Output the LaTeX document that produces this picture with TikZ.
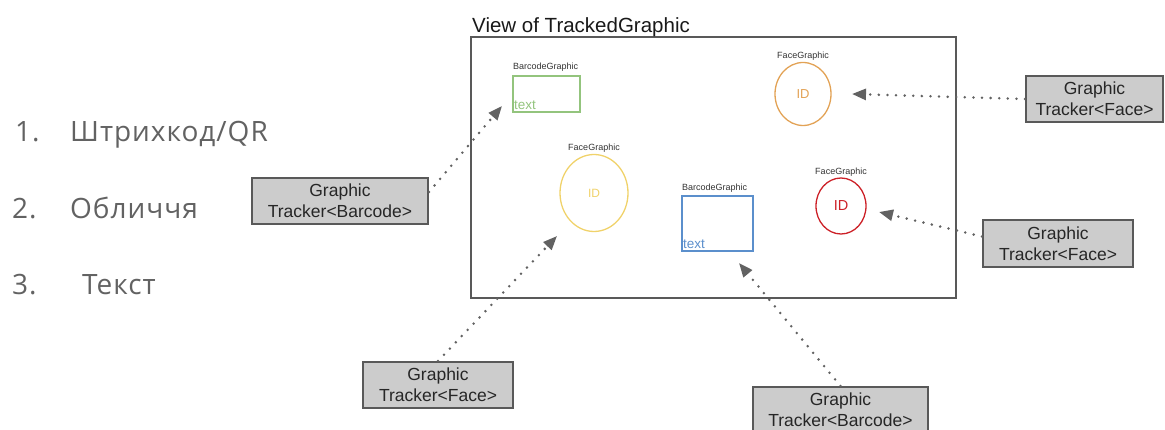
\documentclass[tikz,border=0pt]{standalone}
\usepackage{fontspec}
\setmainfont{Liberation Sans}
\newfontfamily\listfont[LetterSpace=3.5]{Open Sans}
\usetikzlibrary{arrows.meta,shapes.geometric}
\definecolor{framegray}{HTML}{595959}
\definecolor{boxfill}{HTML}{CCCCCC}
\definecolor{dotgray}{HTML}{626262}
\definecolor{listgray}{HTML}{626262}
\definecolor{barcodegreen}{HTML}{93C47D}
\definecolor{barcodeblue}{HTML}{5B8FCC}
\definecolor{faceorange}{HTML}{E2A255}
\definecolor{faceyellow}{HTML}{F0D26A}
\definecolor{facered}{HTML}{CC2027}
\tikzset{
  tracker/.style={draw=framegray, fill=boxfill, line width=2pt, inner sep=0pt,
    align=center, font=\fontsize{17.5}{21}\selectfont, text=black!85},
  smalllabel/.style={font=\fontsize{9}{10}\selectfont, text=black!80, inner sep=0pt},
  facestyle/.style={ellipse, draw=#1, line width=1.3pt, text=#1,
    font=\fontsize{13}{14}\selectfont, inner sep=0pt},
  barcodestyle/.style={draw=#1, line width=1.3pt, inner sep=0pt},
  conn/.style={dotgray, line width=2.8pt, line cap=round, dash pattern=on 0pt off 8.6pt,
    -{Triangle[length=14pt,width=11pt]}},
  listitem/.style={font=\listfont\fontsize{28}{32}\selectfont, text=listgray, inner sep=0pt, anchor=base west},
}
\begin{document}
\begin{tikzpicture}[x=1pt,y=-1pt]
\useasboundingbox (0,0) rectangle (1165,430);

% numbered list on the left
\node[listitem] (n1) at (15,142) {1.};
\node[listitem] (t1) at (70,142) {Штрихкод/QR};
\node[listitem] (n2) at (12,219) {2.};
\node[listitem] (t2) at (70,219) {Обличчя};
\node[listitem] (n3) at (12,295) {3.};
\node[listitem] (t3) at (82,295) {Текст};

% the view frame
\draw[framegray, line width=2pt] (471,37) rectangle (956,298);
\node[anchor=base west, inner sep=0pt, font=\fontsize{20.5}{22}\selectfont, text=black!90] (title) at (472,33) {View of TrackedGraphic};

% barcode graphic (green)
\node[barcodestyle=barcodegreen, minimum width=67pt, minimum height=36pt] (bc1) at (546.5,94) {};
\node[smalllabel, anchor=base west] (bc1l) at (513,70) {BarcodeGraphic};
\node[anchor=base west, inner sep=0pt, text=barcodegreen, font=\fontsize{13.5}{14}\selectfont] (bc1t) at (514,110) {text};

% barcode graphic (blue)
\node[barcodestyle=barcodeblue, minimum width=71pt, minimum height=55pt] (bc2) at (717.5,223.5) {};
\node[smalllabel, anchor=base west] (bc2l) at (682,191) {BarcodeGraphic};
\node[anchor=base west, inner sep=0pt, text=barcodeblue, font=\fontsize{13.5}{14}\selectfont] (bc2t) at (683,249) {text};

% face graphics
\node[facestyle=faceorange, minimum width=56pt, minimum height=63pt] (f1) at (803,94) {ID};
\node[smalllabel, anchor=base] (f1l) at (803,59) {FaceGraphic};
\node[facestyle=faceyellow, minimum width=68pt, minimum height=77pt, font=\fontsize{12}{13}\selectfont] (f2) at (594,193) {ID};
\node[smalllabel, anchor=base] (f2l) at (594,151) {FaceGraphic};
\node[facestyle=facered, minimum width=50pt, minimum height=56pt, font=\fontsize{14.5}{15}\selectfont] (f3) at (841,206) {ID};
\node[smalllabel, anchor=base] (f3l) at (841,175) {FaceGraphic};

% trackers
\node[tracker, minimum width=176pt, minimum height=46pt] (gtb1) at (340,201) {Graphic\\Tracker<Barcode>};
\node[tracker, minimum width=137pt, minimum height=46pt] (gtf1) at (1094.5,99) {Graphic\\Tracker<Face>};
\node[tracker, minimum width=150pt, minimum height=47pt] (gtf2) at (1058,243.5) {Graphic\\Tracker<Face>};
\node[tracker, minimum width=150pt, minimum height=46pt] (gtf3) at (438,385) {Graphic\\Tracker<Face>};
\node[tracker, minimum width=175pt, minimum height=46pt] (gtb2) at (840.5,410) {Graphic\\Tracker<Barcode>};

% arrow targets
\coordinate (tipbc1) at (502,106);
\coordinate (tipf1) at (852,94);
\coordinate (tipf3) at (879,212);
\coordinate (tipf2) at (557,236);
\coordinate (tipbc2) at (739,263);

% tracker connectors
\draw[conn] ([yshift=9pt]gtb1.east) -- (tipbc1);
\draw[conn] (gtf1.west) -- (tipf1);
\draw[conn] ([yshift=7pt]gtf2.west) -- (tipf3);
\draw[conn] (gtf3.north) -- (tipf2);
\draw[conn] (gtb2.north) -- (tipbc2);
\end{tikzpicture}
\end{document}
